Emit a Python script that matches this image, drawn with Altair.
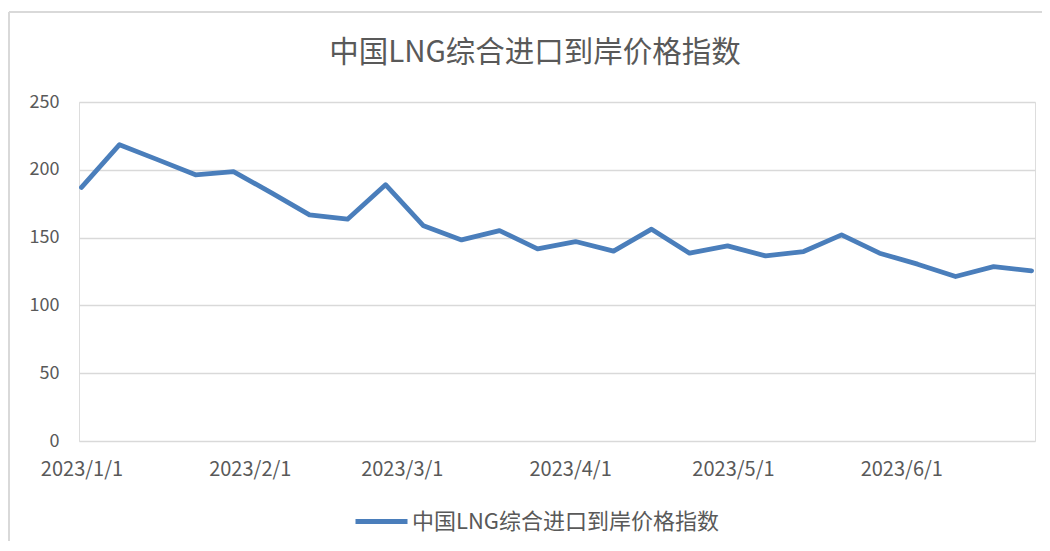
import altair as alt
import pandas as pd

# ---- data ----
dates = [
    "2023-01-01", "2023-01-08", "2023-01-15", "2023-01-22", "2023-01-29",
    "2023-02-05", "2023-02-12", "2023-02-19", "2023-02-26", "2023-03-05",
    "2023-03-12", "2023-03-19", "2023-03-26", "2023-04-02", "2023-04-09",
    "2023-04-16", "2023-04-23", "2023-04-30", "2023-05-07", "2023-05-14",
    "2023-05-21", "2023-05-28", "2023-06-04", "2023-06-11", "2023-06-18",
    "2023-06-25",
]
values = [
    187, 218.5, 207.5, 196.3, 198.7, 183, 166.8, 163.6, 189, 158.7,
    148.3, 155.2, 141.7, 147.1, 140, 156.2, 138.5, 143.9, 136.5, 139.7,
    152, 138.5, 130.4, 121.3, 128.6, 125.5,
]
series_name = "中国LNG综合进口到岸价格指数"
chart_title = "中国LNG综合进口到岸价格指数"
y_ticks = [0, 50, 100, 150, 200, 250]
x_tick_months = [1, 2, 3, 4, 5, 6]

df = pd.DataFrame({"date": dates, "value": values, "series": series_name})

FONT = "Noto Sans CJK SC"
TEXT = "#595959"
GRID = "#d9d9d9"
LINE = "#4a7ebb"

W, H = 956, 339
PAD_L, PAD_T = 71, 94
OX, OY = 8 + PAD_L, 8 + PAD_T  # page position of plot origin

x_enc = alt.X(
    "date:T",
    scale=alt.Scale(
        type="utc",
        domain=[
            alt.DateTime(year=2022, month=12, date=31, hours=13, utc=True),
            alt.DateTime(year=2023, month=6, date=25, hours=15, utc=True),
        ],
    ),
    axis=alt.Axis(
        title=None,
        values=[alt.DateTime(year=2023, month=m, date=1, utc=True) for m in x_tick_months],
        labelExpr="utcyear(datum.value) + '/' + (utcmonth(datum.value) + 1) + '/' + utcdate(datum.value)",
        grid=False,
        domain=False,
        ticks=False,
        labelPadding=18,
        labelFontSize=20,
        labelColor=TEXT,
        labelFont=FONT,
    ),
)

y_enc = alt.Y(
    "value:Q",
    scale=alt.Scale(domain=[0, 250], nice=False),
    axis=alt.Axis(
        title=None,
        values=y_ticks,
        grid=True,
        gridColor=GRID,
        gridWidth=1.5,
        domain=False,
        ticks=False,
        labelPadding=20,
        labelFontSize=18,
        labelColor=TEXT,
        labelFont=FONT,
    ),
)

line = (
    alt.Chart(df)
    .mark_line(strokeWidth=4.8, strokeJoin="round", strokeCap="round")
    .encode(
        x=x_enc,
        y=y_enc,
        color=alt.Color(
            "series:N",
            scale=alt.Scale(range=[LINE]),
            legend=alt.Legend(
                title=None,
                orient="none",
                legendX=274,
                legendY=391,
                padding=0,
                symbolType="stroke",
                symbolSize=2704,
                symbolStrokeWidth=5,
                labelFontSize=22,
                labelFont=FONT,
                labelColor=TEXT,
                labelOffset=2,
                labelLimit=500,
            ),
        ),
    )
)

single = pd.DataFrame({"k": [0]})
top_border = alt.Chart(single).mark_rule(color=GRID, strokeWidth=2).encode(
    x=alt.value(9 - OX), x2=alt.value(1050 - OX), y=alt.value(12 - OY)
)
left_border = alt.Chart(single).mark_rule(color=GRID, strokeWidth=2).encode(
    x=alt.value(9 - OX), y=alt.value(12 - OY), y2=alt.value(551 - OY)
)
title_text = alt.Chart(single).mark_text(
    text=chart_title,
    font=FONT,
    fontSize=29.5,
    color=TEXT,
    align="center",
    baseline="middle",
).encode(x=alt.value(535 - OX), y=alt.value(53 - OY))

chart = (
    alt.layer(top_border, left_border, title_text, line)
    .properties(
        width=W,
        height=H,
        padding={"left": PAD_L, "top": PAD_T, "right": 7, "bottom": 100},
        autosize=alt.AutoSizeParams(type="none"),
    )
    .configure_view(stroke=None)
    .configure(background="white")
)

chart.save("out.html", embed_options={"renderer": "svg", "actions": False})
